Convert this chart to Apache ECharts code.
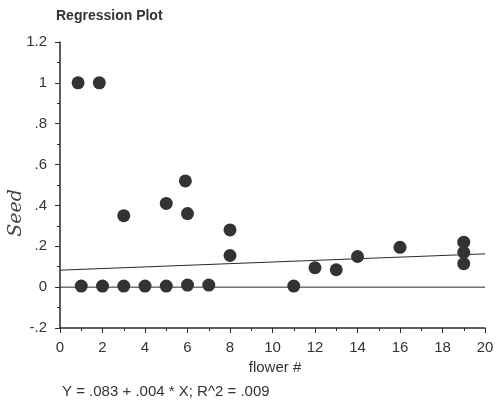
<!DOCTYPE html>
<html>
<head>
<meta charset="utf-8">
<script src="https://cdn.jsdelivr.net/npm/echarts@6/dist/echarts.min.js"></script>
<style>
html,body{margin:0;padding:0;background:#fff;}
#chart{width:497px;height:404px;}
</style>
</head>
<body>
<div id="chart"></div>
<script>
// Data
var flowerX = [0.85, 1.85, 3, 5, 5.9, 6, 8, 8, 1, 2, 3, 4, 5, 6, 7, 11, 12, 13, 14, 16, 19, 19, 19];
var seedY   = [1.0, 1.0, 0.35, 0.41, 0.52, 0.36, 0.28, 0.155, 0.005, 0.005, 0.005, 0.005, 0.005, 0.01, 0.01, 0.005, 0.095, 0.085, 0.15, 0.195, 0.22, 0.17, 0.115];
var fitIntercept = 0.083;
var fitSlope = 0.004;
var lineX = [0, 20];
var zeroY = [0, 0];
var yTicks = ['-.2', '0', '.2', '.4', '.6', '.8', '1', '1.2'];
var xTicks = ['0', '2', '4', '6', '8', '10', '12', '14', '16', '18', '20'];
var titleText = 'Regression Plot';
var xName = 'flower #';
var yName = 'Seed';
var equation = 'Y = .083 + .004 * X; R^2 = .009';

var pts = flowerX.map(function (x, i) { return [x, seedY[i]]; });
var fitLine = lineX.map(function (x) { return [x, fitIntercept + fitSlope * x]; });
var zeroLine = lineX.map(function (x, i) { return [x, zeroY[i]]; });

var chart = echarts.init(document.getElementById('chart'));
var ink = '#2a2a2a';
chart.setOption({
  animation: false,
  backgroundColor: '#fff',
  grid: { left: 60, right: 12, top: 42, bottom: 76 },
  xAxis: {
    type: 'value', min: 0, max: 20, interval: 2,
    splitLine: { show: false },
    axisLine: { onZero: false, lineStyle: { color: ink, width: 1.5 } },
    axisTick: { inside: false, length: 5, lineStyle: { color: ink } },
    minorTick: { show: true, splitNumber: 2, length: 3, lineStyle: { color: ink } },
    axisLabel: {
      margin: 12, color: '#333', fontSize: 15, fontFamily: 'Liberation Sans',
      formatter: function (v) { return xTicks[Math.round(v / 2)]; }
    }
  },
  yAxis: {
    type: 'value', min: -0.2, max: 1.2, interval: 0.2,
    splitLine: { show: false },
    axisLine: { show: true, onZero: false, lineStyle: { color: ink, width: 1.5 } },
    axisTick: { show: true, inside: false, length: 5, lineStyle: { color: ink } },
    minorTick: { show: true, splitNumber: 2, length: 3, lineStyle: { color: ink } },
    axisLabel: {
      margin: 13, color: '#333', fontSize: 15, fontFamily: 'Liberation Sans',
      formatter: function (v) { return yTicks[Math.round((v + 0.2) / 0.2)]; }
    }
  },
  graphic: [
    { type: 'text', left: 56, top: 9, style: { text: titleText, font: 'bold 14px "Liberation Sans"', fill: '#333' } },
    { type: 'text', x: 275, y: 368, style: { text: xName, font: '15px "Liberation Sans"', fill: '#333', align: 'center', verticalAlign: 'middle' } },
    { type: 'text', left: 62, top: 384, style: { text: equation, font: '15px "Liberation Sans"', fill: '#333' } },
    { type: 'text', x: 16, y: 213, rotation: Math.PI / 2, style: { text: yName, font: 'italic 19px "DejaVu Serif"', fill: '#444', align: 'center', verticalAlign: 'middle' } }
  ],
  series: [
    { type: 'line', data: zeroLine, symbol: 'none', lineStyle: { color: ink, width: 1 }, z: 1 },
    { type: 'line', data: fitLine, symbol: 'none', lineStyle: { color: ink, width: 1 }, z: 1 },
    { type: 'scatter', data: pts, symbol: 'circle', symbolSize: 13, itemStyle: { color: '#333', opacity: 1 }, z: 3 }
  ]
});
</script>
</body>
</html>
